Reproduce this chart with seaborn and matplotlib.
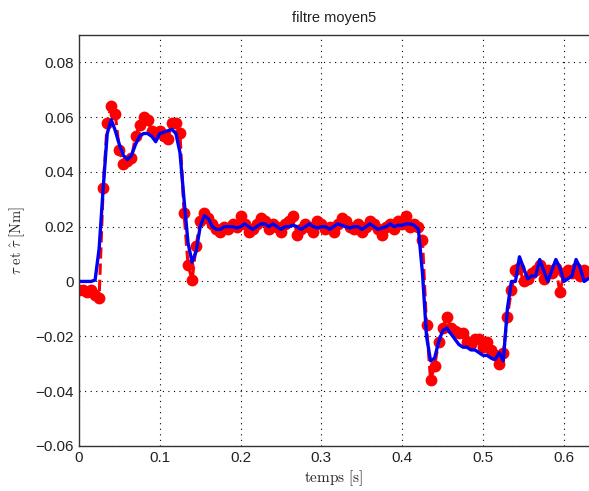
"""
Measured torque vs. 5-point moving-average filtered torque.
"""

import matplotlib

matplotlib.use("Agg")
import matplotlib.pyplot as plt
import numpy as np
import pandas as pd
import seaborn as sns

# sample times [s]
temps = np.round(np.arange(0, 0.6301, 0.005), 3)

# measured torque (red markers)
tau = [
    -0.003, -0.003, -0.004, -0.003, -0.005, -0.006, 0.034, 0.058, 0.064, 0.061,
    0.048, 0.043, 0.044, 0.045, 0.053, 0.057, 0.060, 0.059, 0.055, 0.054,
    0.055, 0.053, 0.052, 0.058, 0.058, 0.054, 0.025, 0.006, 0.0005, 0.013,
    0.022, 0.025, 0.023, 0.021, 0.019, 0.018, 0.020, 0.019, 0.021, 0.020,
    0.024, 0.021, 0.018, 0.019, 0.021, 0.023, 0.022, 0.019, 0.021, 0.020,
    0.018, 0.021, 0.022, 0.024, 0.017, 0.019, 0.021, 0.020, 0.018, 0.022,
    0.021, 0.019, 0.020, 0.018, 0.021, 0.023, 0.022, 0.020, 0.019, 0.021,
    0.018, 0.020, 0.022, 0.021, 0.019, 0.017, 0.020, 0.021, 0.019, 0.022,
    0.021, 0.024, 0.020, 0.021, 0.020, 0.015, -0.016, -0.036, -0.031, -0.022,
    -0.017, -0.013, -0.017, -0.018, -0.019, -0.019, -0.022, -0.023, -0.021, -0.021,
    -0.024, -0.022, -0.025, -0.027, -0.030, -0.026, -0.013, -0.003, 0.004, 0.005,
    0.000, 0.001, 0.003, 0.004, 0.006, 0.001, 0.004, 0.003, 0.005, -0.004,
    0.003, 0.004, 0.003, 0.005, 0.002, 0.004, 0.003,
]

# filtered torque (blue line)
tau_hat = [
    0.0, 0.0, 0.0, 0.0, 0.0005, 0.012, 0.034, 0.054, 0.059, 0.055,
    0.050, 0.046, 0.0445, 0.046, 0.050, 0.053, 0.054, 0.054, 0.053, 0.051,
    0.054, 0.0545, 0.055, 0.0555, 0.054, 0.047, 0.030, 0.014, 0.007, 0.011,
    0.020, 0.024, 0.023, 0.020, 0.019, 0.019, 0.020, 0.020, 0.020, 0.0195,
    0.020, 0.021, 0.020, 0.019, 0.020, 0.021, 0.021, 0.020, 0.021, 0.020,
    0.019, 0.020, 0.020, 0.0205, 0.020, 0.019, 0.020, 0.021, 0.020, 0.0195,
    0.020, 0.020, 0.019, 0.020, 0.021, 0.0205, 0.020, 0.0195, 0.020, 0.020,
    0.019, 0.020, 0.021, 0.020, 0.019, 0.0195, 0.020, 0.021, 0.020, 0.0205,
    0.0205, 0.021, 0.021, 0.0205, 0.019, 0.003, -0.020, -0.029, -0.028, -0.022,
    -0.018, -0.017, -0.019, -0.021, -0.023, -0.024, -0.024, -0.025, -0.025, -0.026,
    -0.027, -0.027, -0.028, -0.0285, -0.026, -0.029, -0.010, 0.000, 0.000, 0.009,
    0.005, 0.001, 0.002, 0.002, 0.008, 0.004, 0.000, 0.004, 0.008, 0.005,
    0.000, 0.001, 0.002, 0.008, 0.005, 0.000, 0.001,
]

x_ticks = [0, 0.1, 0.2, 0.3, 0.4, 0.5, 0.6]
y_ticks = [-0.06, -0.04, -0.02, 0, 0.02, 0.04, 0.06, 0.08]

df = pd.DataFrame({"temps": temps, "tau": tau, "tau_hat": tau_hat})

sns.set_style("white")
plt.rcParams["font.family"] = ["Liberation Sans", "DejaVu Sans"]
plt.rcParams["mathtext.fontset"] = "cm"

fig = plt.figure(figsize=(5.89, 4.91), dpi=100)
ax = fig.add_axes([0.134, 0.092, 0.866, 0.837])

sns.lineplot(
    data=df, x="temps", y="tau", ax=ax, color="red", linestyle="--",
    linewidth=2.2, marker="o", markersize=8.5, markeredgecolor="red",
    markeredgewidth=0, sort=False,
)
sns.lineplot(
    data=df, x="temps", y="tau_hat", ax=ax, color="#0000f5",
    linewidth=2.4, sort=False,
)

ax.set_xlim(0, 0.631)
ax.set_ylim(-0.06, 0.09)
ax.set_xticks(x_ticks)
ax.set_xticklabels(["0" if v == 0 else f"{v:g}" for v in x_ticks])
ax.set_yticks(y_ticks)
ax.set_yticklabels(["0" if v == 0 else f"{v:.2f}".replace("-", "\u2212") for v in y_ticks])
ax.tick_params(direction="in", length=4, labelsize=11, colors="#222222")
ax.grid(True, color="black", linestyle=(0, (1, 4)), linewidth=0.8)

for side in ["left", "bottom", "top"]:
    ax.spines[side].set_color("#333333")
    ax.spines[side].set_linewidth(1.0)
ax.spines["right"].set_visible(False)

ax.set_xlabel(r"$\mathrm{temps\ [s]}$", fontsize=11, labelpad=3)
ax.set_ylabel(r"$\tau\ \mathrm{et}\ \hat{\tau}\ \mathrm{[Nm]}$", fontsize=10.5, labelpad=6)
ax.set_title("filtre moyen5", fontsize=10.5, pad=9, color="#222222")

fig.savefig("out.png", dpi=100)
plt.close(fig)
